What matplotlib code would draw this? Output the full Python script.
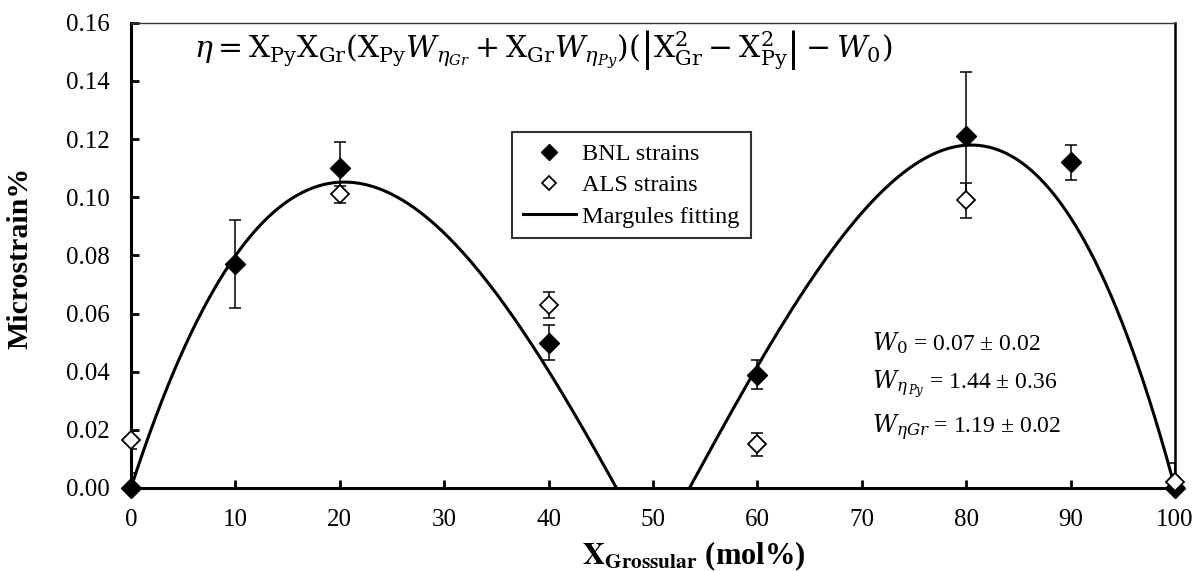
import numpy as np
import matplotlib.pyplot as plt
from matplotlib.lines import Line2D

plt.rcParams['font.family'] = ['Liberation Serif', 'DejaVu Serif']
plt.rcParams['mathtext.fontset'] = 'stix'

# measured microstrain (%) vs grossular content (mol%)
bnl_x = [0, 10, 20, 40, 60, 80, 90, 100]
bnl_y = [0.000, 0.077, 0.110, 0.050, 0.039, 0.121, 0.112, 0.000]
bnl_err = [0.005, 0.015, 0.009, 0.006, 0.005, 0.022, 0.006, 0.0]

als_x = [0, 20, 40, 60, 80, 100]
als_y = [0.0165, 0.101, 0.063, 0.015, 0.099, 0.002]
als_err = [0.003, 0.003, 0.0045, 0.004, 0.006, 0.0065]

# Margules fit parameters
W0 = 0.07
W_py = 1.44
W_gr = 1.19


def margules(x_gr):
    x_py = 1 - x_gr
    return x_py * x_gr * (x_py * W_gr + x_gr * W_py) * (np.abs(x_gr**2 - x_py**2) - W0)


fig = plt.figure(figsize=(11.97, 5.71), dpi=100)
ax = fig.add_axes([0.1094, 0.1454, 0.9816 - 0.1094, 0.9602 - 0.1454])

# fitted curve, only where it is positive
xs = np.linspace(0, 1, 2001)
eta = margules(xs)
left = xs <= 0.5
fit_l = np.where(eta[left] >= 0, eta[left], np.nan)
fit_r = np.where(eta[~left] >= 0, eta[~left], np.nan)
ax.plot(xs[left] * 100, fit_l, color='black', lw=2.2, zorder=2)
ax.plot(xs[~left] * 100, fit_r, color='black', lw=2.2, zorder=2)

# error bars (clipped at the axes), then markers on top (not clipped)
eb_kw = dict(fmt='none', ecolor='black', elinewidth=1.1, capsize=4.5, capthick=1.1)
ax.errorbar(bnl_x, bnl_y, yerr=bnl_err, zorder=3, **eb_kw)
ax.errorbar(als_x, als_y, yerr=als_err, zorder=3, **eb_kw)
ax.plot(bnl_x, bnl_y, 'D', ms=10, mfc='black', mec='black', ls='none',
        clip_on=False, zorder=4)
ax.plot(als_x, als_y, 'D', ms=9, mfc='white', mec='black', mew=1.3, ls='none',
        clip_on=False, zorder=5)

ax.set_xlim(0, 100)
ax.set_ylim(0, 0.16)
ax.set_xticks(np.arange(0, 101, 10))
ax.set_yticks(np.arange(0, 0.161, 0.02))
ax.set_yticklabels([f'{v:.2f}' for v in np.arange(0, 0.161, 0.02)])
ax.tick_params(direction='in', length=6, width=2, labelsize=18, pad=15)
ax.tick_params(top=False, right=False)

for side in ['left', 'bottom']:
    ax.spines[side].set_linewidth(2.2)
ax.spines['right'].set_linewidth(1.8)
ax.spines['top'].set_linewidth(1.0)
ax.spines['top'].set_color('#333333')

ax.set_ylabel('Microstrain%', fontsize=21.5, fontweight='bold')
ax.yaxis.set_label_coords(-0.093, 0.494)
ax.set_xlabel(r'$\mathbf{X}_{\mathbf{Grossular}}$ (mol%)', fontsize=22, fontweight='bold')
ax.xaxis.set_label_coords(0.539, -0.11)

ax.text(6.0, 0.1505,
        r'$\eta = \mathrm{X_{Py}X_{Gr}}(\mathrm{X_{Py}}W_{\eta_{Gr}}'
        r'+\mathrm{X_{Gr}}W_{\eta_{Py}})(\left|\mathrm{X_{Gr}^2}-\mathrm{X_{Py}^2}\right|-W_0)$',
        fontsize=21.5, va='center', ha='left', math_fontfamily='dejavuserif')

ann_kw = dict(fontsize=17, va='center', math_fontfamily='dejavuserif')
ax.text(71.0, 0.050, r'$W_0$ = 0.07 ± 0.02', **ann_kw)
ax.text(71.0, 0.0354, r'$W_{\eta_{\,Py}}$ = 1.44 ± 0.36', **ann_kw)
ax.text(71.0, 0.0206, r'$W_{\eta Gr}$ = 1.19 ± 0.02', **ann_kw)

handles = [
    Line2D([], [], marker='D', ms=8, mfc='black', mec='black', ls='none'),
    Line2D([], [], marker='D', ms=7, mfc='white', mec='black', mew=1.3, ls='none'),
    Line2D([], [], color='black', lw=2.2),
]
labels = ['BNL strains', 'ALS strains', 'Margules fitting']
leg = ax.legend(handles, labels, loc='upper left', bbox_to_anchor=(0.3647, 0.765),
                borderaxespad=0, fontsize=17.5, frameon=True, fancybox=False,
                edgecolor='black', handlelength=2.2, handletextpad=0.25,
                labelspacing=0.38, borderpad=0.45)
leg.get_frame().set_linewidth(1.5)

fig.savefig('out.png', dpi=100)
